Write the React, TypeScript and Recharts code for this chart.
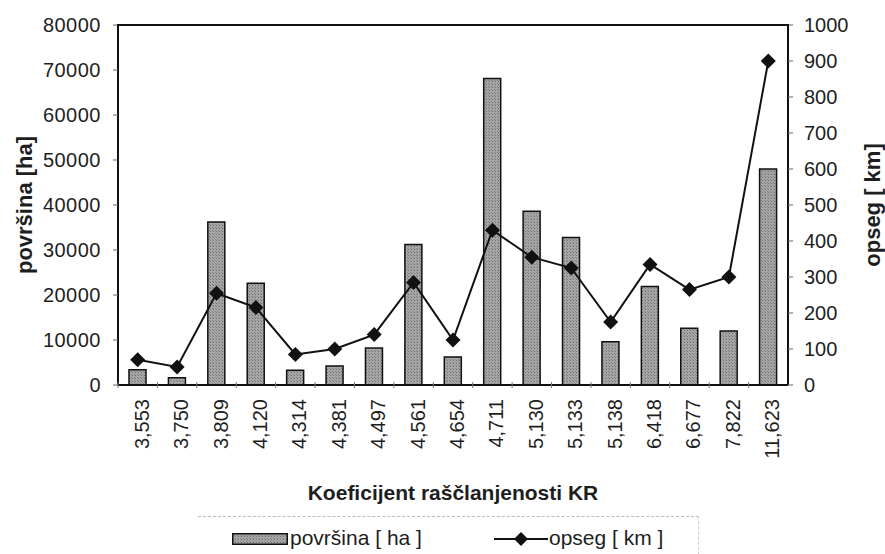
import { ComposedChart, Bar, Line, XAxis, YAxis } from 'recharts';

const categories = ['3,553', '3,750', '3,809', '4,120', '4,314', '4,381', '4,497', '4,561', '4,654', '4,711', '5,130', '5,133', '5,138', '6,418', '6,677', '7,822', '11,623'];
const povrsina = [3400, 1600, 36200, 22600, 3300, 4200, 8200, 31200, 6200, 68100, 38600, 32800, 9600, 21900, 12600, 12000, 48000];
const opseg = [70, 50, 255, 215, 85, 100, 140, 285, 125, 430, 355, 325, 175, 335, 265, 300, 900];
const leftTicks = [0, 10000, 20000, 30000, 40000, 50000, 60000, 70000, 80000];
const rightTicks = [0, 100, 200, 300, 400, 500, 600, 700, 800, 900, 1000];

const data = categories.map((kr, i) => ({ kr, povrsina: povrsina[i], opseg: opseg[i] }));

const FONT = '"Liberation Sans", Arial, sans-serif';
const INK = '#1e1e1e';

function Diamond(props: any) {
  const { cx, cy } = props;
  if (cx == null || cy == null) return null;
  const r = 7.5;
  return <polygon points={`${cx},${cy - r} ${cx + r},${cy} ${cx},${cy + r} ${cx - r},${cy}`} fill="#111" />;
}

function KrTick(props: any) {
  const { x, y, payload } = props;
  const half = payload && payload.offset ? payload.offset : 0;
  return (
    <g>
      {half > 0 && <line x1={x - half} x2={x - half} y1={y - 11} y2={y - 5} stroke="#777" strokeWidth={1} />}
      <text x={x + 4} y={y + 6} transform={`rotate(-90, ${x + 4}, ${y + 6})`} textAnchor="end" dominantBaseline="central"
        fontSize={20} fontFamily={FONT} fill={INK}>{payload.value}</text>
    </g>
  );
}

export default function App() {
  return (
    <div style={{ position: 'absolute', left: 0, top: 0, width: 885, height: 554, background: '#fff' }}>
      <ComposedChart width={885} height={554} data={data} margin={{ top: 25, right: 0, bottom: 0, left: 0 }} barSize={17}>
        <defs>
          <pattern id="speckle" width="3" height="3" patternUnits="userSpaceOnUse">
            <rect width="3" height="3" fill="#a6a6a6" />
            <rect width="1" height="1" fill="#6e6e6e" />
            <rect x="2" y="2" width="1" height="1" fill="#828282" />
          </pattern>
        </defs>
        <XAxis dataKey="kr" height={169} interval={0} axisLine={{ stroke: '#111', strokeWidth: 2 }} tickLine={false}
          tick={<KrTick />}
          label={(p: any) => {
            const vb = p.viewBox || {};
            return <text x={vb.x + vb.width / 2} y={vb.y + 107} textAnchor="middle" dominantBaseline="central"
              fontSize={21} fontWeight="bold" fontFamily={FONT} fill={INK}>Koeficijent raščlanjenosti KR</text>;
          }} />
        <YAxis yAxisId="left" width={118} domain={[0, 80000]} ticks={leftTicks} interval={0}
          axisLine={{ stroke: '#111', strokeWidth: 2 }} tickLine={{ stroke: '#666' }} tickSize={5} tickMargin={12}
          tick={{ fontSize: 20, fontFamily: FONT, fill: INK, letterSpacing: 0.5 }}
          label={(p: any) => {
            const vb = p.viewBox || {};
            const cx = vb.x + 24;
            const cy = vb.y + vb.height / 2;
            return <text x={cx} y={cy} transform={`rotate(-90, ${cx}, ${cy})`} textAnchor="middle" dominantBaseline="central"
              fontSize={22} fontWeight="bold" fontFamily={FONT} fill={INK}>površina [ha]</text>;
          }} />
        <YAxis yAxisId="right" orientation="right" width={97} domain={[0, 1000]} ticks={rightTicks} interval={0}
          axisLine={{ stroke: '#111', strokeWidth: 2 }} tickLine={{ stroke: '#666' }} tickSize={5} tickMargin={11}
          tick={{ fontSize: 20, fontFamily: FONT, fill: INK }}
          label={(p: any) => {
            const vb = p.viewBox || {};
            const cx = vb.x + vb.width - 13;
            const cy = vb.y + vb.height / 2;
            return <text x={cx} y={cy} transform={`rotate(-90, ${cx}, ${cy})`} textAnchor="middle" dominantBaseline="central"
              fontSize={22} fontWeight="bold" fontFamily={FONT} fill={INK}>opseg [ km]</text>;
          }} />
        <Bar yAxisId="left" dataKey="povrsina" fill="url(#speckle)" stroke="#111" strokeWidth={1.5} isAnimationActive={false} />
        <Line yAxisId="right" dataKey="opseg" type="linear" stroke="#111" strokeWidth={2} dot={<Diamond />} activeDot={false}
          isAnimationActive={false} />
      </ComposedChart>

      {/* top edge of the plot frame */}
      <div style={{ position: 'absolute', left: 117, top: 24, width: 672, height: 0, borderTop: '2px solid #111' }} />

      <div style={{ position: 'absolute', left: 198, top: 516, width: 500, height: 38, borderTop: '1px dashed #bbb',
        borderRight: '1px dashed #ccc', fontFamily: FONT, fontSize: 21, color: INK }}>
        <svg width={56} height={12} style={{ position: 'absolute', left: 34, top: 16 }}>
          <rect x={0.75} y={0.75} width={54.5} height={10.5} fill="url(#speckle)" stroke="#111" strokeWidth={1.5} />
        </svg>
        <span style={{ position: 'absolute', left: 92, top: 9, lineHeight: '24px', whiteSpace: 'nowrap' }}>površina [ ha ]</span>
        <svg width={54} height={16} style={{ position: 'absolute', left: 296, top: 14 }}>
          <line x1={0} x2={54} y1={8} y2={8} stroke="#111" strokeWidth={2} />
          <polygon points="27,1 34,8 27,15 20,8" fill="#111" />
        </svg>
        <span style={{ position: 'absolute', left: 351, top: 9, lineHeight: '24px', whiteSpace: 'nowrap' }}>opseg [ km ]</span>
      </div>
    </div>
  );
}
